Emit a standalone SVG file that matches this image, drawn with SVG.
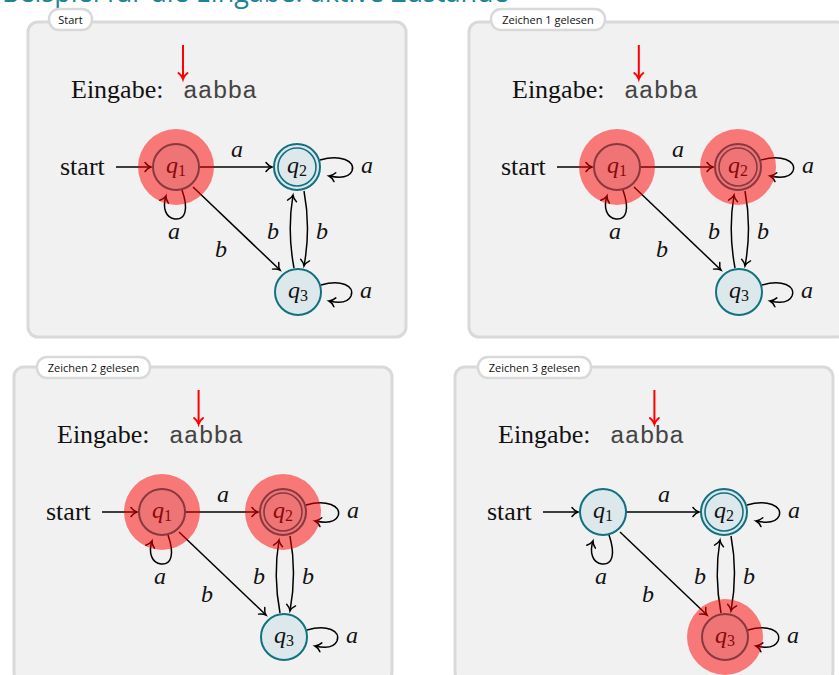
<svg xmlns="http://www.w3.org/2000/svg" width="839" height="675" viewBox="0 0 839 675">
<style>
.panel{fill:#f1f1f1;stroke:#d9d9d9;stroke-width:3}
.pill{fill:#ffffff;stroke:#d9d9d9;stroke-width:2.5}
.pilltxt{font-family:"Open Sans","Noto Sans",sans-serif;font-size:11px;fill:#111;text-anchor:middle}
.serif{font-family:"Liberation Serif","DejaVu Serif",serif;fill:#111}
.lbl{font-family:"Liberation Serif","DejaVu Serif",serif;font-style:italic;font-size:24px;fill:#111;text-anchor:middle}
.mono{font-family:"Liberation Mono","DejaVu Sans Mono",monospace;font-size:24.7px;fill:#444}
.edge{fill:none;stroke:#000;stroke-width:1.5;marker-end:url(#arr)}
.inarr{fill:none;stroke:#ff0000;stroke-width:2;marker-end:url(#rarr)}
.node{fill:#dde8ec;stroke:#12707f;stroke-width:2}
.node2{fill:none;stroke:#12707f;stroke-width:1.6}
.hl{fill:#ff0000;opacity:0.5}
.title{font-family:"Open Sans","Noto Sans",sans-serif;font-size:27px;fill:#1e8393}
</style>
<defs>
<marker id="arr" markerUnits="userSpaceOnUse" markerWidth="14" markerHeight="14" viewBox="-7 -7 14 14" refX="0" refY="0" orient="auto" overflow="visible">
<path d="M -6 -4.5 C -4 -1.8, -2 -0.6, 0 0 C -2 0.6, -4 1.8, -6 4.5" fill="none" stroke="#000" stroke-width="1.5" stroke-linecap="round"/>
</marker>
<marker id="rarr" markerUnits="userSpaceOnUse" markerWidth="14" markerHeight="14" viewBox="-7 -7 14 14" refX="0" refY="0" orient="auto" overflow="visible">
<path d="M -6 -4.5 C -4 -1.8, -2 -0.6, 0 0 C -2 0.6, -4 1.8, -6 4.5" fill="none" stroke="#ff0000" stroke-width="2" stroke-linecap="round"/>
</marker>
</defs>

<text class="title" x="2" y="2">Beispiel für die Eingabe: aktive Zustände</text>

<!-- Panel 1 -->
<g id="panel1">
<rect class="panel" x="28" y="22" width="378" height="315" rx="10"/>
<rect class="pill" x="49" y="9" width="43" height="21" rx="10"/>
<text class="pilltxt" x="70.5" y="23.5">Start</text>
<text class="serif" x="71" y="98" font-size="26">Eingabe:</text>
<text class="mono" x="183" y="98">aabba</text>
<line class="inarr" x1="183" y1="45" x2="183" y2="79"/>
<text class="serif" x="60" y="175" font-size="26">start</text>
<g id="p1-edges">
<line class="edge" x1="116" y1="167" x2="151" y2="167"/>
<line class="edge" x1="199" y1="167" x2="272" y2="167"/>
<path class="edge" d="M 182 190 C 189 210, 185 220, 175 219 C 166 218, 162 208, 166 196"/>
<path class="edge" d="M 320 160 C 340 154, 356 161, 352 171 C 349 178, 339 178, 329 176"/>
<path class="edge" d="M 321 285 C 341 279, 355 286, 351 296 C 348 303, 338 303, 329 301"/>
<line class="edge" x1="193" y1="187" x2="280" y2="270"/>
<path class="edge" d="M 304 191 Q 311 228, 304 266"/>
<path class="edge" d="M 294 268 Q 287 231, 293 195"/>
<text class="lbl" x="237" y="157">a</text>
<text class="lbl" x="174" y="239">a</text>
<text class="lbl" x="367" y="173">a</text>
<text class="lbl" x="366" y="298">a</text>
<text class="lbl" x="221" y="257">b</text>
<text class="lbl" x="322" y="239">b</text>
<text class="lbl" x="273" y="239">b</text>
</g>
<g id="p1-q1"><circle class="node" cx="176" cy="167" r="23"/><text class="serif" x="166" y="173" font-size="24"><tspan font-style="italic">q</tspan><tspan font-size="16" dy="3">1</tspan></text></g>
<g id="p1-q2"><circle class="node" cx="297" cy="167" r="23"/><circle class="node2" cx="297" cy="167" r="19"/><text class="serif" x="287" y="173" font-size="24"><tspan font-style="italic">q</tspan><tspan font-size="16" dy="3">2</tspan></text></g>
<g id="p1-q3"><circle class="node" cx="298" cy="292" r="23"/><text class="serif" x="288" y="298" font-size="24"><tspan font-style="italic">q</tspan><tspan font-size="16" dy="3">3</tspan></text></g>
<circle class="hl" cx="176" cy="167" r="38"/>
</g>

<!-- Panel 2 -->
<g id="panel2" transform="translate(441,0)">
<rect class="panel" x="28" y="22" width="378" height="315" rx="10"/>
<rect class="pill" x="50" y="9" width="114" height="21" rx="10"/>
<text class="pilltxt" x="107" y="23.5">Zeichen 1 gelesen</text>
<text class="serif" x="71" y="98" font-size="26">Eingabe:</text>
<text class="mono" x="183" y="98">aabba</text>
<line class="inarr" x1="197.8" y1="45" x2="197.8" y2="79"/>
<text class="serif" x="60" y="175" font-size="26">start</text>
<g id="p2-edges">
<line class="edge" x1="116" y1="167" x2="151" y2="167"/>
<line class="edge" x1="199" y1="167" x2="272" y2="167"/>
<path class="edge" d="M 182 190 C 189 210, 185 220, 175 219 C 166 218, 162 208, 166 196"/>
<path class="edge" d="M 320 160 C 340 154, 356 161, 352 171 C 349 178, 339 178, 329 176"/>
<path class="edge" d="M 321 285 C 341 279, 355 286, 351 296 C 348 303, 338 303, 329 301"/>
<line class="edge" x1="193" y1="187" x2="280" y2="270"/>
<path class="edge" d="M 304 191 Q 311 228, 304 266"/>
<path class="edge" d="M 294 268 Q 287 231, 293 195"/>
<text class="lbl" x="237" y="157">a</text>
<text class="lbl" x="174" y="239">a</text>
<text class="lbl" x="367" y="173">a</text>
<text class="lbl" x="366" y="298">a</text>
<text class="lbl" x="221" y="257">b</text>
<text class="lbl" x="322" y="239">b</text>
<text class="lbl" x="273" y="239">b</text>
</g>
<g id="p2-q1"><circle class="node" cx="176" cy="167" r="23"/><text class="serif" x="166" y="173" font-size="24"><tspan font-style="italic">q</tspan><tspan font-size="16" dy="3">1</tspan></text></g>
<g id="p2-q2"><circle class="node" cx="297" cy="167" r="23"/><circle class="node2" cx="297" cy="167" r="19"/><text class="serif" x="287" y="173" font-size="24"><tspan font-style="italic">q</tspan><tspan font-size="16" dy="3">2</tspan></text></g>
<g id="p2-q3"><circle class="node" cx="298" cy="292" r="23"/><text class="serif" x="288" y="298" font-size="24"><tspan font-style="italic">q</tspan><tspan font-size="16" dy="3">3</tspan></text></g>
<circle class="hl" cx="176" cy="167" r="38"/>
<circle class="hl" cx="297" cy="167" r="38"/>
</g>

<!-- Panel 3 -->
<g id="panel3" transform="translate(-14,345)">
<rect class="panel" x="28" y="22" width="378" height="315" rx="10"/>
<rect class="pill" x="51" y="12" width="113" height="21" rx="10"/>
<text class="pilltxt" x="107.5" y="26.5">Zeichen 2 gelesen</text>
<text class="serif" x="71" y="98" font-size="26">Eingabe:</text>
<text class="mono" x="183" y="98">aabba</text>
<line class="inarr" x1="212.6" y1="45" x2="212.6" y2="79"/>
<text class="serif" x="60" y="175" font-size="26">start</text>
<g id="p3-edges">
<line class="edge" x1="116" y1="167" x2="151" y2="167"/>
<line class="edge" x1="199" y1="167" x2="272" y2="167"/>
<path class="edge" d="M 182 190 C 189 210, 185 220, 175 219 C 166 218, 162 208, 166 196"/>
<path class="edge" d="M 320 160 C 340 154, 356 161, 352 171 C 349 178, 339 178, 329 176"/>
<path class="edge" d="M 321 285 C 341 279, 355 286, 351 296 C 348 303, 338 303, 329 301"/>
<line class="edge" x1="193" y1="187" x2="280" y2="270"/>
<path class="edge" d="M 304 191 Q 311 228, 304 266"/>
<path class="edge" d="M 294 268 Q 287 231, 293 195"/>
<text class="lbl" x="237" y="157">a</text>
<text class="lbl" x="174" y="239">a</text>
<text class="lbl" x="367" y="173">a</text>
<text class="lbl" x="366" y="298">a</text>
<text class="lbl" x="221" y="257">b</text>
<text class="lbl" x="322" y="239">b</text>
<text class="lbl" x="273" y="239">b</text>
</g>
<g id="p3-q1"><circle class="node" cx="176" cy="167" r="23"/><text class="serif" x="166" y="173" font-size="24"><tspan font-style="italic">q</tspan><tspan font-size="16" dy="3">1</tspan></text></g>
<g id="p3-q2"><circle class="node" cx="297" cy="167" r="23"/><circle class="node2" cx="297" cy="167" r="19"/><text class="serif" x="287" y="173" font-size="24"><tspan font-style="italic">q</tspan><tspan font-size="16" dy="3">2</tspan></text></g>
<g id="p3-q3"><circle class="node" cx="298" cy="292" r="23"/><text class="serif" x="288" y="298" font-size="24"><tspan font-style="italic">q</tspan><tspan font-size="16" dy="3">3</tspan></text></g>
<circle class="hl" cx="176" cy="167" r="38"/>
<circle class="hl" cx="297" cy="167" r="38"/>
</g>

<!-- Panel 4 -->
<g id="panel4" transform="translate(427,345)">
<rect class="panel" x="28" y="22" width="378" height="315" rx="10"/>
<rect class="pill" x="51" y="12" width="113" height="21" rx="10"/>
<text class="pilltxt" x="107.5" y="26.5">Zeichen 3 gelesen</text>
<text class="serif" x="71" y="98" font-size="26">Eingabe:</text>
<text class="mono" x="183" y="98">aabba</text>
<line class="inarr" x1="227.4" y1="45" x2="227.4" y2="79"/>
<text class="serif" x="60" y="175" font-size="26">start</text>
<g id="p4-edges">
<line class="edge" x1="116" y1="167" x2="151" y2="167"/>
<line class="edge" x1="199" y1="167" x2="272" y2="167"/>
<path class="edge" d="M 182 190 C 189 210, 185 220, 175 219 C 166 218, 162 208, 166 196"/>
<path class="edge" d="M 320 160 C 340 154, 356 161, 352 171 C 349 178, 339 178, 329 176"/>
<path class="edge" d="M 321 285 C 341 279, 355 286, 351 296 C 348 303, 338 303, 329 301"/>
<line class="edge" x1="193" y1="187" x2="280" y2="270"/>
<path class="edge" d="M 304 191 Q 311 228, 304 266"/>
<path class="edge" d="M 294 268 Q 287 231, 293 195"/>
<text class="lbl" x="237" y="157">a</text>
<text class="lbl" x="174" y="239">a</text>
<text class="lbl" x="367" y="173">a</text>
<text class="lbl" x="366" y="298">a</text>
<text class="lbl" x="221" y="257">b</text>
<text class="lbl" x="322" y="239">b</text>
<text class="lbl" x="273" y="239">b</text>
</g>
<g id="p4-q1"><circle class="node" cx="176" cy="167" r="23"/><text class="serif" x="166" y="173" font-size="24"><tspan font-style="italic">q</tspan><tspan font-size="16" dy="3">1</tspan></text></g>
<g id="p4-q2"><circle class="node" cx="297" cy="167" r="23"/><circle class="node2" cx="297" cy="167" r="19"/><text class="serif" x="287" y="173" font-size="24"><tspan font-style="italic">q</tspan><tspan font-size="16" dy="3">2</tspan></text></g>
<g id="p4-q3"><circle class="node" cx="298" cy="292" r="23"/><text class="serif" x="288" y="298" font-size="24"><tspan font-style="italic">q</tspan><tspan font-size="16" dy="3">3</tspan></text></g>
<circle class="hl" cx="298" cy="292" r="38"/>
</g>
</svg>
